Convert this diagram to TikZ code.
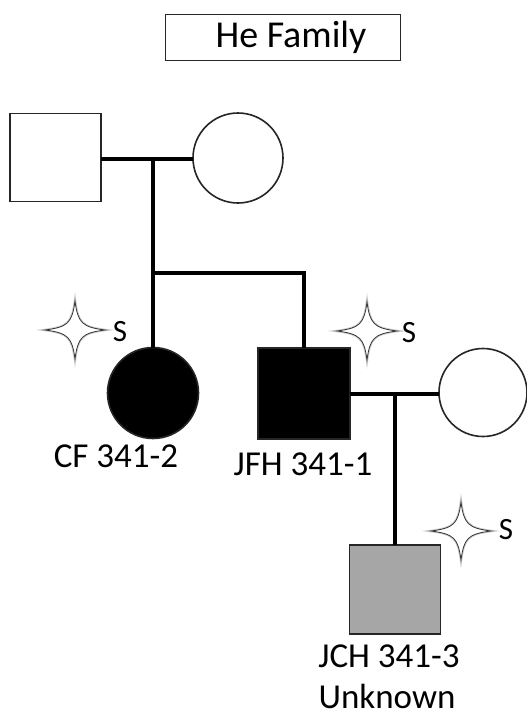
\documentclass[tikz,border=0pt]{standalone}
\usepackage{fontspec}
\setmainfont{Carlito}
\begin{document}
\begin{tikzpicture}[x=1pt,y=-1pt,
  outl/.style={draw=black!85, line width=1.6pt, inner sep=0pt, outer sep=0pt},
  sq/.style={outl, rectangle, minimum width=91pt, minimum height=89pt},
  ci/.style={outl, circle, minimum size=90pt},
  pline/.style={line width=4pt, line join=miter, black},
  lab/.style={font=\fontsize{35}{42}\selectfont, anchor=base, inner sep=0pt},
  slab/.style={font=\fontsize{31}{36}\selectfont, inner sep=0pt},
  starshape/.pic={
    \path[draw=black!20, line width=2.6pt, fill=white]
      (0,-29) .. controls (-3,-7) and (-7,-3) .. (-30,0)
      .. controls (-7,3) and (-3,7) .. (0,29)
      .. controls (3,7) and (7,3) .. (30,0)
      .. controls (7,-3) and (3,-7) .. cycle;
    \path[draw=black!80, line width=0.8pt, fill=white]
      (0,-29) .. controls (-3,-7) and (-7,-3) .. (-30,0)
      .. controls (-7,3) and (-3,7) .. (0,29)
      .. controls (3,7) and (7,3) .. (30,0)
      .. controls (7,-3) and (3,-7) .. cycle;
  }]
\useasboundingbox[fill=white] (0,0) rectangle (527,716);

% title
\node[draw=black!85, line width=1pt, minimum width=235pt, minimum height=46pt, inner sep=0pt,
  font=\fontsize{38}{44}\selectfont] (title) at (283,37) {\hspace*{16pt}He Family};

% generation I
\node[sq, minimum height=88pt, fill=white] (f1) at (55.5,157.5) {};
\node[ci, fill=white] (m1) at (238,158) {};

% generation II
\node[ci, fill=black, minimum size=91pt] (cf) at (153,393) {};
\node[sq, fill=black, minimum width=92pt, minimum height=91pt] (jfh) at (304,393.5) {};
\node[ci, fill=white, minimum size=88pt] (sp) at (483,392.5) {};

% generation III
\node[sq, fill=black!35] (jch) at (395,589.5) {};

% connectors
\coordinate (c1) at (153,159);
\coordinate (s1) at (153,273);
\coordinate (s2) at (304,273);
\coordinate (c2) at (395,394);
\draw[pline] (f1.east |- c1) -- (m1.west |- c1);
\draw[pline] (c1) -- (cf.north);
\draw[pline] (s1) -- (s2) -- (jfh.north);
\draw[pline] (jfh.east |- c2) -- (sp.west |- c2);
\draw[pline] (c2) -- (jch.north);

% labels
\node[lab] (lcf) at (116,467) {CF 341-2};
\node[lab] (ljfh) at (303,475) {JFH 341-1};
\node[lab] (ljch) at (389,667) {JCH 341-3};
\node[lab] (lunk) at (387,708) {Unknown};

% stars with S
\pic at (75,330) {starshape};
\node[slab] (s1lab) at (120,332) {S};
\pic at (367,331) {starshape};
\node[slab] (s2lab) at (409,333) {S};
\pic at (461,531) {starshape};
\node[slab] (s3lab) at (506,530) {S};
\end{tikzpicture}
\end{document}
